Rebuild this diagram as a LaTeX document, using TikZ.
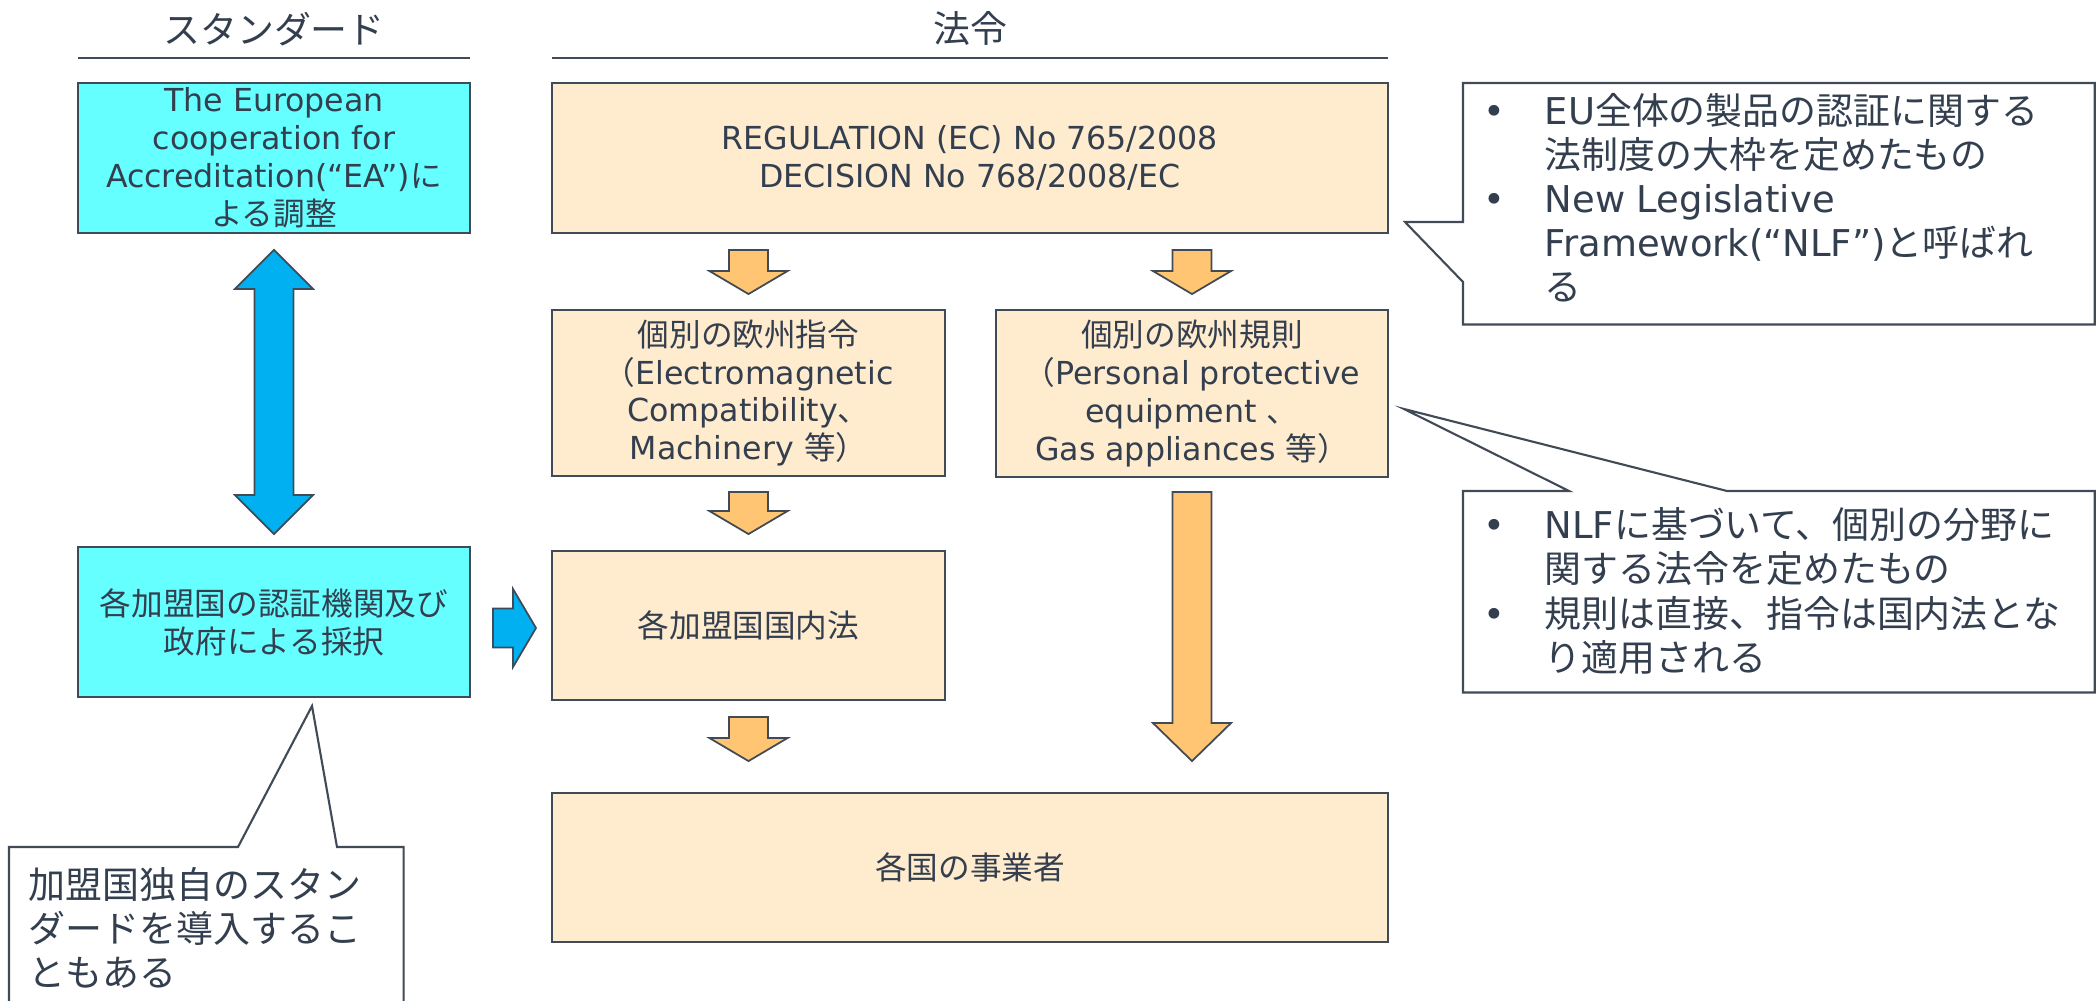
\documentclass[tikz,border=0pt]{standalone}
\usepackage{fontspec}
\setmainfont{DejaVu Sans}
\newfontfamily\jp{Noto Sans CJK JP}
\usepackage{tikz}
\usetikzlibrary{calc}
\definecolor{ink}{HTML}{333F4F}
\definecolor{edge}{HTML}{404B57}
\definecolor{aqua}{HTML}{66FFFF}
\definecolor{peach}{HTML}{FFEBCD}
\definecolor{amber}{HTML}{FFC573}
\definecolor{sky}{HTML}{00B0F0}
\tikzset{
  box/.style={draw=edge, line width=0.5pt, inner sep=0pt, align=center, text=ink, font=\fontsize{9}{10.8}\selectfont},
  std/.style={box, fill=aqua},
  law/.style={box, fill=peach},
  hdr/.style={text=ink, font=\jp\fontsize{10.5}{12.6}\selectfont},
  headrule/.style={draw=edge, line width=0.6pt},
  blk/.style={draw=edge, line width=0.5pt, line join=miter},
  oblk/.style={blk, fill=amber},
  bblk/.style={blk, fill=sky},
  bubble/.style={draw=edge, line width=0.6pt, fill=white, line join=miter},
  noteframe/.style={inner sep=0pt, anchor=north west},
  notetext/.style={inner sep=0pt, anchor=north west, text=ink, align=left, font=\fontsize{10.5}{12.5}\selectfont},
}
\def\sw{0.195cm}
\def\hw{0.39cm}
% block arrows: style, tail, tip, head length
\newcommand{\downblock}[4]{%
  \draw[#1] let \p1=(#2), \p2=(#3) in
    (\x1-\sw,\y1) -- (\x1+\sw,\y1) -- (\x1+\sw,\y2+#4) -- (\x1+\hw,\y2+#4)
    -- (\x2,\y2) -- (\x1-\hw,\y2+#4) -- (\x1-\sw,\y2+#4) -- cycle;}
\newcommand{\rightblock}[4]{%
  \draw[#1] let \p1=(#2), \p2=(#3) in
    (\x1,\y1+\sw) -- (\x2-#4,\y1+\sw) -- (\x2-#4,\y1+\hw) -- (\x2,\y2)
    -- (\x2-#4,\y1-\hw) -- (\x2-#4,\y1-\sw) -- (\x1,\y1-\sw) -- cycle;}
\newcommand{\updownblock}[4]{%
  \draw[#1] let \p1=(#2), \p2=(#3) in
    (\x1,\y1) -- (\x1+\hw,\y1-#4) -- (\x1+\sw,\y1-#4) -- (\x1+\sw,\y2+#4) -- (\x1+\hw,\y2+#4)
    -- (\x2,\y2) -- (\x1-\hw,\y2+#4) -- (\x1-\sw,\y2+#4) -- (\x1-\sw,\y1-#4) -- (\x1-\hw,\y1-#4) -- cycle;}

\begin{document}
\begin{tikzpicture}[x=0.01cm, y=-0.01cm]
  \useasboundingbox (0,0) rectangle (2096,1001);
  % column heads
  \node[hdr] (hstd) at (274,29) {スタンダード};
  \node[hdr] (hlaw) at (970,29) {法令};
  \draw[headrule] (78,58) -- (470,58);
  \draw[headrule] (552,58) -- (1388,58);

  % boxes
  \node[std, minimum width=3.92cm, minimum height=1.50cm] (ea) at (274,158)
    {The European\\cooperation for\\Accreditation(“EA”){\jp に}\\{\jp よる調整}};
  \node[law, minimum width=8.36cm, minimum height=1.50cm] (reg) at (970,158)
    {REGULATION (EC) No 765/2008\\DECISION No 768/2008/EC};
  \node[law, minimum width=3.93cm, minimum height=1.66cm] (dir) at (748.5,393)
    {{\jp 個別の欧州指令}\\{\jp （}Electromagnetic\\Compatibility{\jp 、}\\Machinery {\jp 等）}};
  \node[law, minimum width=3.92cm, minimum height=1.67cm] (rul) at (1192,393.5)
    {{\jp 個別の欧州規則}\\{\jp （}Personal protective\\equipment {\jp 、}\\Gas appliances {\jp 等）}};
  \node[std, minimum width=3.92cm, minimum height=1.50cm] (adp) at (274,622)
    {{\jp 各加盟国の認証機関及び}\\{\jp 政府による採択}};
  \node[law, minimum width=3.93cm, minimum height=1.49cm] (nat) at (748.5,625.5) {\jp 各加盟国国内法};
  \node[law, minimum width=8.36cm, minimum height=1.49cm] (biz) at (970,867.5) {\jp 各国の事業者};

  % arrows
  \coordinate (a1) at ($(reg.south -| dir.north)+(0,16)$);
  \coordinate (b1) at ($(dir.north)+(0,-15)$);
  \downblock{oblk}{a1}{b1}{0.23cm}
  \coordinate (a2) at ($(reg.south -| rul.north)+(0,16)$);
  \coordinate (b2) at ($(rul.north)+(0,-15)$);
  \downblock{oblk}{a2}{b2}{0.23cm}
  \coordinate (a3) at ($(dir.south)+(0,15)$);
  \coordinate (b3) at ($(nat.north)+(0,-16)$);
  \downblock{oblk}{a3}{b3}{0.23cm}
  \coordinate (a4) at ($(nat.south)+(0,16)$);
  \coordinate (b4) at ($(nat.south |- biz.north)+(0,-31)$);
  \downblock{oblk}{a4}{b4}{0.23cm}
  \coordinate (a5) at ($(rul.south)+(0,14)$);
  \coordinate (b5) at ($(rul.south |- biz.north)+(0,-31)$);
  \downblock{oblk}{a5}{b5}{0.38cm}
  \coordinate (u1) at ($(ea.south)+(0,16)$);
  \coordinate (u2) at ($(adp.north)+(0,-12)$);
  \updownblock{bblk}{u1}{u2}{0.39cm}
  \coordinate (r1) at ($(adp.east)+(22,6)$);
  \coordinate (r2) at ($(r1 -| nat.west)+(-15,0)$);
  \rightblock{bblk}{r1}{r2}{0.23cm}

  % notes
  \node[noteframe, minimum width=6.30cm, minimum height=2.40cm] (n1) at (1463,83) {};
  \coordinate (t1) at (1405,222);
  \draw[bubble] (n1.north west) -- (n1.north east) -- (n1.south east) -- (n1.south west)
    -- ($(n1.north west)+(0,199)$) -- (t1) -- ($(n1.north west)+(0,139)$) -- cycle;
  \node[notetext] (n1t) at (1483,93) {\begin{tabular}{@{}p{0.61cm}@{}l@{}}
    •&EU{\jp 全体の製品の認証に関する}\\
     &{\jp 法制度の大枠を定めたもの}\\
    •&New Legislative\\
     &Framework(“NLF”){\jp と呼ばれ}\\
     &{\jp る}\end{tabular}};

  \node[noteframe, minimum width=6.30cm, minimum height=2.00cm] (n2) at (1463,491) {};
  \coordinate (t2) at (1404,409);
  \draw[bubble] (n2.north west) -- ($(n2.north west)+(106,0)$) -- (t2) -- ($(n2.north west)+(264,0)$)
    -- (n2.north east) -- (n2.south east) -- (n2.south west) -- cycle;
  \node[notetext] (n2t) at (1483,507) {\begin{tabular}{@{}p{0.61cm}@{}l@{}}
    •&NLF{\jp に基づいて、個別の分野に}\\
     &{\jp 関する法令を定めたもの}\\
    •&{\jp 規則は直接、指令は国内法とな}\\
     &{\jp り適用される}\end{tabular}};

  \node[noteframe, minimum width=3.93cm, minimum height=1.80cm] (n3) at (9,847) {};
  \coordinate (t3) at (312,706);
  \draw[bubble] (n3.north west) -- ($(n3.north west)+(229,0)$) -- (t3) -- ($(n3.north west)+(328,0)$)
    -- (n3.north east) -- (n3.south east) -- (n3.south west) -- cycle;
  \node[notetext, font=\jp\fontsize{10.5}{12.5}\selectfont] (n3t) at (28,867)
    {加盟国独自のスタン\\ダードを導入するこ\\ともある};
\end{tikzpicture}
\end{document}
